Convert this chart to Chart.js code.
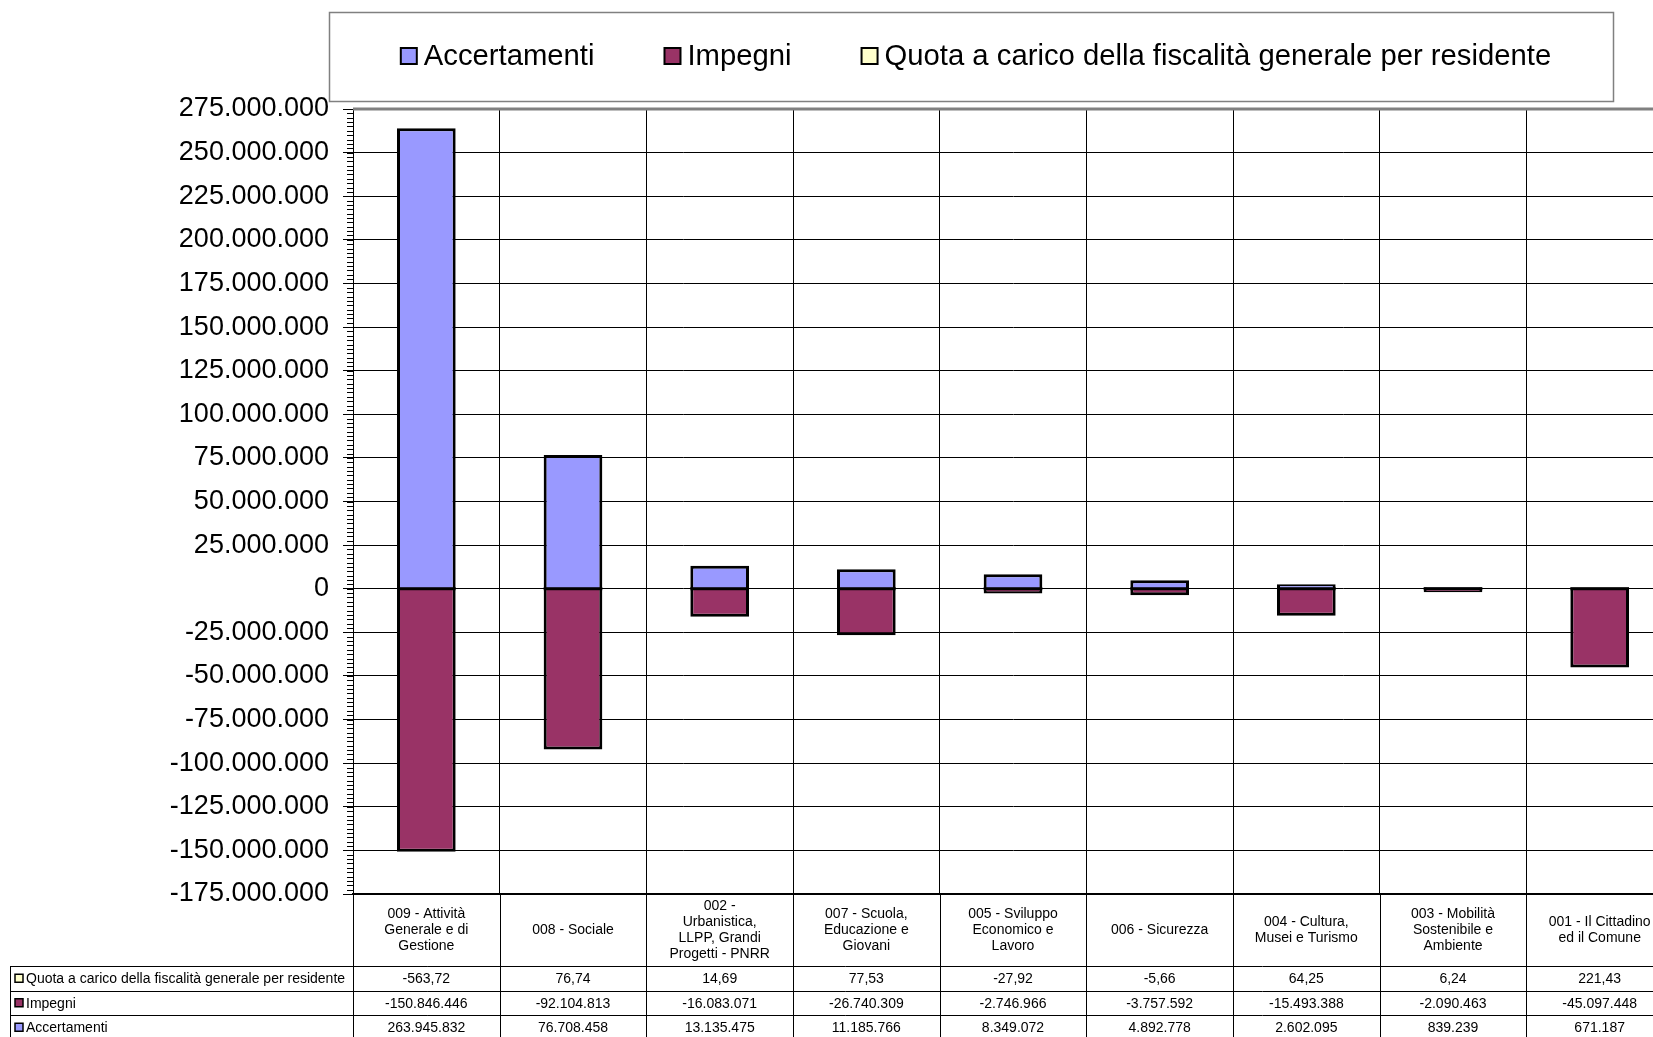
<!DOCTYPE html>
<html>
<head>
<meta charset="utf-8">
<script src="https://cdn.jsdelivr.net/npm/chart.js@4.4.1/dist/chart.umd.min.js"></script>
<style>
    html, body { margin: 0; padding: 0; background: #fff; overflow: hidden; }
    #wrap { width: 1680px; height: 1037px; }
</style>
</head>
<body>
<div id="wrap"><canvas id="chart" width="1680" height="1037"></canvas></div>
<script>
// Categorie (righe già spezzate come nella tabella dati)
const categories = [
    ['009 - Attività', 'Generale e di', 'Gestione'],
    ['008 - Sociale'],
    ['002 -', 'Urbanistica,', 'LLPP, Grandi', 'Progetti - PNRR'],
    ['007 - Scuola,', 'Educazione e', 'Giovani'],
    ['005 - Sviluppo', 'Economico e', 'Lavoro'],
    ['006 - Sicurezza'],
    ['004 - Cultura,', 'Musei e Turismo'],
    ['003 - Mobilità', 'Sostenibile e', 'Ambiente'],
    ['001 - Il Cittadino', 'ed il Comune']
];

const accertamenti = [263945832, 76708458, 13135475, 11185766, 8349072, 4892778, 2602095, 839239, 671187];
const impegni = [-150846446, -92104813, -16083071, -26740309, -2746966, -3757592, -15493388, -2090463, -45097448];
const quota = [-563.72, 76.74, 14.69, 77.53, -27.92, -5.66, 64.25, 6.24, 221.43];

const yMin = -175000000;
const yMax = 275000000;
const yStep = 25000000;

const FONT = "'Liberation Sans', Arial, sans-serif";

function fmtInt(n) {
    const s = Math.abs(Math.round(n)).toString().replace(/\B(?=(\d{3})+(?!\d))/g, '.');
    return (n < 0 ? '-' : '') + s;
}

function fmtDec(n) {
    return n.toFixed(2).replace('.', ',');
}

// Linea nera unica alla base delle barre impilate
const baseLinePlugin = {
    id: 'baseLine',
    afterDatasetsDraw(chart) {
        const ctx = chart.ctx;
        const y0 = chart.scales.y.getPixelForValue(0);
        ctx.save();
        ctx.fillStyle = '#000';
        chart.getDatasetMeta(0).data.forEach(bar => {
            ctx.fillRect(bar.x - bar.width / 2, y0 - 1.5, bar.width, 3);
        });
        ctx.restore();
    }
};

// Legenda in riquadro + tabella dati sotto il grafico
const tablePlugin = {
    id: 'tablePlugin',
    afterDraw(chart) {
        const ctx = chart.ctx;
        const area = chart.chartArea;
        const x = chart.scales.x;
        const y = chart.scales.y;
        const n = categories.length;
        const colW = (area.right - area.left) / n;

        ctx.save();

        // bordo superiore del plot
        ctx.strokeStyle = '#808080';
        ctx.lineWidth = 3;
        ctx.beginPath();
        ctx.moveTo(area.left, area.top);
        ctx.lineTo(chart.width, area.top);
        ctx.stroke();

        // tacche minori asse y
        ctx.strokeStyle = '#000';
        ctx.lineWidth = 1;
        for (let v = yMin; v <= yMax; v += yStep / 10) {
            const py = Math.round(y.getPixelForValue(v)) + 0.5;
            ctx.beginPath();
            ctx.moveTo(area.left - 6, py);
            ctx.lineTo(area.left, py);
            ctx.stroke();
        }

        // tabella
        const catBottom = area.bottom + 72;
        const rowH = 24.5;
        const tableLeft = 10.5;
        const rows = [
            { label: chart.data.datasets[2].label, color: chart.data.datasets[2].backgroundColor, values: quota.map(fmtDec) },
            { label: chart.data.datasets[1].label, color: chart.data.datasets[1].backgroundColor, values: impegni.map(fmtInt) },
            { label: chart.data.datasets[0].label, color: chart.data.datasets[0].backgroundColor, values: accertamenti.map(fmtInt) }
        ];
        const tableBottom = catBottom + rowH * rows.length;

        ctx.strokeStyle = '#000';
        ctx.lineWidth = 1;
        for (let i = 0; i <= n; i++) {
            const px = Math.round(area.left + i * colW) + 0.5;
            ctx.beginPath();
            ctx.moveTo(px, area.bottom);
            ctx.lineTo(px, tableBottom);
            ctx.stroke();
        }
        ctx.beginPath();
        ctx.moveTo(tableLeft, catBottom);
        ctx.lineTo(tableLeft, tableBottom);
        ctx.stroke();
        for (let r = 0; r <= rows.length; r++) {
            const py = Math.round(catBottom + r * rowH) + 0.5;
            ctx.beginPath();
            ctx.moveTo(tableLeft, py);
            ctx.lineTo(chart.width, py);
            ctx.stroke();
        }

        ctx.fillStyle = '#000';
        ctx.font = '14px ' + FONT;
        ctx.textAlign = 'center';
        ctx.textBaseline = 'middle';
        const lineH = 15.8;
        const catMid = (area.bottom + catBottom) / 2;
        categories.forEach((lines, i) => {
            const cx = x.getPixelForValue(i);
            const y0 = catMid - (lines.length - 1) * lineH / 2;
            lines.forEach((t, k) => ctx.fillText(t, cx, y0 + k * lineH));
        });

        rows.forEach((row, r) => {
            const cy = catBottom + r * rowH + rowH / 2;
            ctx.textAlign = 'center';
            row.values.forEach((t, i) => ctx.fillText(t, x.getPixelForValue(i), cy + 1));
            // chiave
            ctx.fillStyle = row.color;
            ctx.fillRect(15, cy - 4, 8, 8);
            ctx.strokeStyle = '#000';
            ctx.lineWidth = 1.5;
            ctx.strokeRect(15, cy - 4, 8, 8);
            ctx.fillStyle = '#000';
            ctx.textAlign = 'left';
            ctx.fillText(row.label, 26, cy + 1);
        });

        // legenda
        ctx.strokeStyle = '#808080';
        ctx.lineWidth = 1.5;
        ctx.strokeRect(329.5, 12.5, 1284, 89);
        ctx.font = '29.25px ' + FONT;
        ctx.textAlign = 'left';
        ctx.textBaseline = 'middle';
        const items = chart.data.datasets.map(d => ({ label: d.label, color: d.backgroundColor }));
        const keyS = 16, keyGap = 7, itemGap = 70;
        let total = 0;
        items.forEach((it, i) => {
            it.w = ctx.measureText(it.label).width;
            total += keyS + keyGap + it.w + (i ? itemGap : 0);
        });
        let lx = 329 + (1284 - total) / 2 + 5;
        const ly = 56;
        items.forEach(it => {
            ctx.fillStyle = it.color;
            ctx.fillRect(lx, ly - keyS / 2, keyS, keyS);
            ctx.strokeStyle = '#000';
            ctx.lineWidth = 2;
            ctx.strokeRect(lx, ly - keyS / 2, keyS, keyS);
            ctx.fillStyle = '#000';
            ctx.fillText(it.label, lx + keyS + keyGap, ly + 1);
            lx += keyS + keyGap + it.w + itemGap;
        });

        ctx.restore();
    }
};

new Chart(document.getElementById('chart'), {
    type: 'bar',
    data: {
        labels: categories,
        datasets: [
            {
                label: 'Accertamenti',
                data: accertamenti,
                backgroundColor: '#9999FF',
                borderColor: '#000',
                borderWidth: 3,
                borderSkipped: 'start',
                inflateAmount: 0
            },
            {
                label: 'Impegni',
                data: impegni,
                backgroundColor: '#993366',
                borderColor: '#000',
                borderWidth: 3,
                borderSkipped: 'start',
                inflateAmount: 0
            },
            {
                label: 'Quota a carico della fiscalità generale per residente',
                data: quota,
                backgroundColor: '#FFFFCC',
                borderColor: '#000',
                borderWidth: 0,
                inflateAmount: 0
            }
        ]
    },
    options: {
        responsive: false,
        animation: false,
        layout: { padding: { top: 109, bottom: 143, left: 0, right: 7 } },
        datasets: {
            bar: { categoryPercentage: 1, barPercentage: 0.40 }
        },
        plugins: {
            legend: { display: false },
            tooltip: { enabled: false }
        },
        scales: {
            x: {
                stacked: true,
                ticks: { display: false },
                grid: { color: '#000', lineWidth: 1, drawTicks: false, offset: true },
                border: { color: '#000', width: 2 },
                afterFit(scale) { scale.height = 0; }
            },
            y: {
                stacked: true,
                min: yMin,
                max: yMax,
                ticks: {
                    stepSize: yStep,
                    padding: 14,
                    color: '#000',
                    font: { family: FONT, size: 27 },
                    callback: v => fmtInt(v)
                },
                grid: { color: '#000', lineWidth: 1, tickLength: 10, tickColor: '#000' },
                border: { color: '#000', width: 1 },
                afterFit(scale) { scale.width = 353; }
            }
        }
    },
    plugins: [baseLinePlugin, tablePlugin]
});
</script>
</body>
</html>
